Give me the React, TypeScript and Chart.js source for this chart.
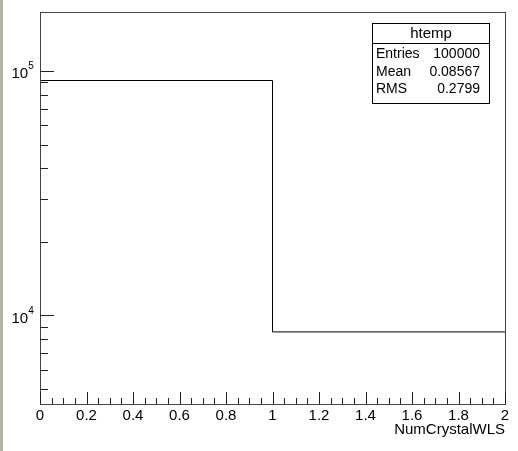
import React, { useEffect, useRef } from "react";
import { Chart, registerables } from "chart.js";

Chart.register(...registerables);

// ---- data ----
const binEdges = [0, 1, 2];
const binCounts = [91433, 8567];
const histTitle = "htemp";
const xAxisTitle = "NumCrystalWLS";
const xTickValues = [0, 0.2, 0.4, 0.6, 0.8, 1, 1.2, 1.4, 1.6, 1.8, 2];
const xTickLabels = ["0", "0.2", "0.4", "0.6", "0.8", "1", "1.2", "1.4", "1.6", "1.8", "2"];
const xMinorPerMajor = 4;
const yMajorTickValues = [10000, 100000];
const yTickBases = ["10", "10"];
const yTickExponents = ["4", "5"];
const yMinorTickValues = [5000, 6000, 7000, 8000, 9000, 20000, 30000, 40000, 50000, 60000, 70000, 80000, 90000];
const statsLabels = ["Entries", "Mean", "RMS"];
const statsValues = ["100000", "0.08567", "0.2799"];
const yMin = 4345;
const yMax = 174300;
const xMin = 0;
const xMax = 2;

const FONT = '"Liberation Sans", Arial, Helvetica, sans-serif';

const rootPlugin = {
  id: "rootStyle",
  beforeDraw(chart: any) {
    const ctx = chart.ctx;
    ctx.save();
    ctx.fillStyle = "#ffffff";
    ctx.fillRect(0, 0, chart.width, chart.height);
    ctx.fillStyle = "#b3b3a0";
    ctx.fillRect(0, 0, 3, chart.height);
    ctx.restore();
  },
  afterDraw(chart: any) {
    const ctx = chart.ctx;
    const area = chart.chartArea;
    const xs = chart.scales.x;
    const ys = chart.scales.y;
    const cr = (v: number) => Math.round(v) + 0.5;
    ctx.save();
    // frame
    ctx.strokeStyle = "#444444";
    ctx.lineWidth = 1;
    ctx.strokeRect(cr(area.left), cr(area.top), Math.round(area.right) - Math.round(area.left), Math.round(area.bottom) - Math.round(area.top));

    ctx.strokeStyle = "#222222";
    // x ticks (inward)
    const bottom = Math.round(area.bottom);
    for (let i = 0; i < xTickValues.length; i++) {
      const px = cr(xs.getPixelForValue(xTickValues[i]));
      ctx.beginPath();
      ctx.moveTo(px, bottom);
      ctx.lineTo(px, bottom - 12);
      ctx.stroke();
      if (i < xTickValues.length - 1) {
        const step = (xTickValues[i + 1] - xTickValues[i]) / xMinorPerMajor;
        for (let k = 1; k < xMinorPerMajor; k++) {
          const mx = cr(xs.getPixelForValue(xTickValues[i] + k * step));
          ctx.beginPath();
          ctx.moveTo(mx, bottom);
          ctx.lineTo(mx, bottom - 6);
          ctx.stroke();
        }
      }
    }
    // y ticks (inward)
    const left = Math.round(area.left);
    yMajorTickValues.forEach((v) => {
      const py = cr(ys.getPixelForValue(v));
      ctx.beginPath();
      ctx.moveTo(left, py);
      ctx.lineTo(left + 14, py);
      ctx.stroke();
    });
    yMinorTickValues.forEach((v) => {
      const py = cr(ys.getPixelForValue(v));
      ctx.beginPath();
      ctx.moveTo(left, py);
      ctx.lineTo(left + 8, py);
      ctx.stroke();
    });

    // x labels
    ctx.fillStyle = "#000000";
    ctx.font = `15px ${FONT}`;
    ctx.textAlign = "center";
    ctx.textBaseline = "alphabetic";
    xTickValues.forEach((v, i) => {
      ctx.fillText(xTickLabels[i], xs.getPixelForValue(v), area.bottom + 16);
    });
    // x title
    ctx.textAlign = "right";
    ctx.fillText(xAxisTitle, area.right, area.bottom + 30);

    // y labels with superscript
    yMajorTickValues.forEach((v, i) => {
      const py = ys.getPixelForValue(v);
      ctx.font = `15px ${FONT}`;
      ctx.textAlign = "left";
      const bx = 11.5;
      ctx.fillText(yTickBases[i], bx, py + 7.5);
      const w = ctx.measureText(yTickBases[i]).width;
      ctx.font = `10px ${FONT}`;
      ctx.fillText(yTickExponents[i], bx + w, py - 1.5);
    });

    // stats box
    const bx0 = 372.5, by0 = 23.5, bx1 = 489.5, by1 = 103.5, sep = 43.5;
    ctx.fillStyle = "#ffffff";
    ctx.fillRect(bx0, by0, bx1 - bx0, by1 - by0);
    ctx.strokeStyle = "#000000";
    ctx.strokeRect(bx0, by0, bx1 - bx0, by1 - by0);
    ctx.beginPath();
    ctx.moveTo(bx0, sep);
    ctx.lineTo(bx1, sep);
    ctx.stroke();
    ctx.fillStyle = "#000000";
    ctx.font = `15px ${FONT}`;
    ctx.textAlign = "center";
    ctx.fillText(histTitle, (bx0 + bx1) / 2, 38);
    ctx.font = `14px ${FONT}`;
    const rowBase = [58, 75.5, 93];
    statsLabels.forEach((lab, i) => {
      ctx.textAlign = "left";
      ctx.fillText(lab, 376, rowBase[i]);
      ctx.textAlign = "right";
      ctx.fillText(statsValues[i], 480, rowBase[i]);
    });
    ctx.restore();
  },
};

export default function App() {
  const ref = useRef<HTMLCanvasElement | null>(null);
  useEffect(() => {
    document.body.style.margin = "0";
    if (!ref.current) return;
    const points = binEdges.map((e, i) => ({
      x: e,
      y: binCounts[Math.min(i, binCounts.length - 1)],
    }));
    const chart = new Chart(ref.current, {
      type: "line",
      data: {
        datasets: [
          {
            data: points,
            borderColor: "#000000",
            borderWidth: 1,
            pointRadius: 0,
            fill: false,
            stepped: "before",
          } as any,
        ],
      },
      options: {
        responsive: false,
        animation: false,
        devicePixelRatio: 1,
        layout: { padding: { left: 40, top: 12, right: 13, bottom: 47 } },
        plugins: { legend: { display: false }, tooltip: { enabled: false }, title: { display: false } },
        scales: {
          x: { type: "linear", min: xMin, max: xMax, display: false },
          y: { type: "logarithmic", min: yMin, max: yMax, display: false },
        },
      },
      plugins: [rootPlugin],
    });
    return () => chart.destroy();
  }, []);
  return (
    <div style={{ position: "absolute", left: 0, top: 0, width: 518, height: 451 }}>
      <canvas ref={ref} width={518} height={451} style={{ display: "block" }} />
    </div>
  );
}
